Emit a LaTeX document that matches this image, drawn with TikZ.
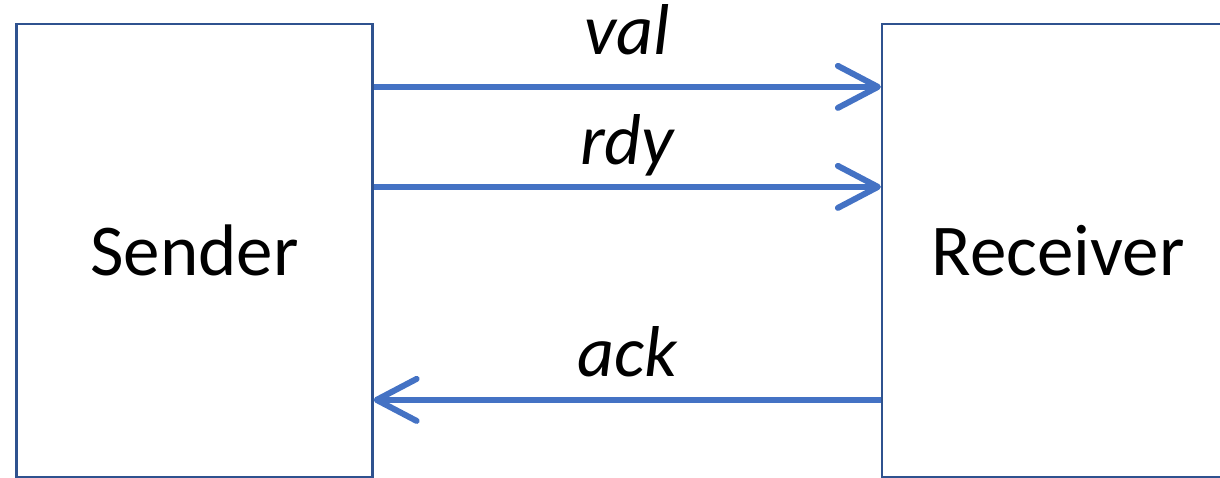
\documentclass[tikz,border=0pt]{standalone}
\usepackage{fontspec}
\setmainfont{Carlito}
\usetikzlibrary{arrows.meta,calc}
\definecolor{boxline}{HTML}{2F528F}
\definecolor{sigblue}{HTML}{4472C4}
\begin{document}
\begin{tikzpicture}[x=1pt,y=-1pt,
  blockbox/.style={draw=boxline, line width=2.2pt, fill=white, inner sep=0pt,
    font=\fontsize{73}{80}\selectfont},
  sig/.style={draw=sigblue, line width=6pt,
    -{Straight Barb[length=40pt,width=42pt,line cap=round,line join=round]}},
  siglabel/.style={anchor=base, inner sep=0pt, font=\fontsize{72}{80}\selectfont\itshape}]
\clip (0,0) rectangle (1220,478);
\useasboundingbox (0,0) rectangle (1220,478);
\node[blockbox, minimum width=356pt, minimum height=453pt] (S) at (194.5,250.5) {Sender};
\node[blockbox, minimum width=352pt, minimum height=453pt] (R) at (1058,250.5) {Receiver};
\draw[sig] ($(S.north east)+(0,64)$) -- ($(R.north west)+(0,64)$);
\draw[sig] ($(S.north east)+(0,164)$) -- ($(R.north west)+(0,164)$);
\draw[sig] ($(R.north west)+(0,377)$) -- ($(S.north east)+(0,377)$);
\node[siglabel] (lv) at (627,55) {val};
\node[siglabel] (lr) at (627,165) {rdy};
\node[siglabel] (la) at (627,376) {ack};
\end{tikzpicture}
\end{document}
